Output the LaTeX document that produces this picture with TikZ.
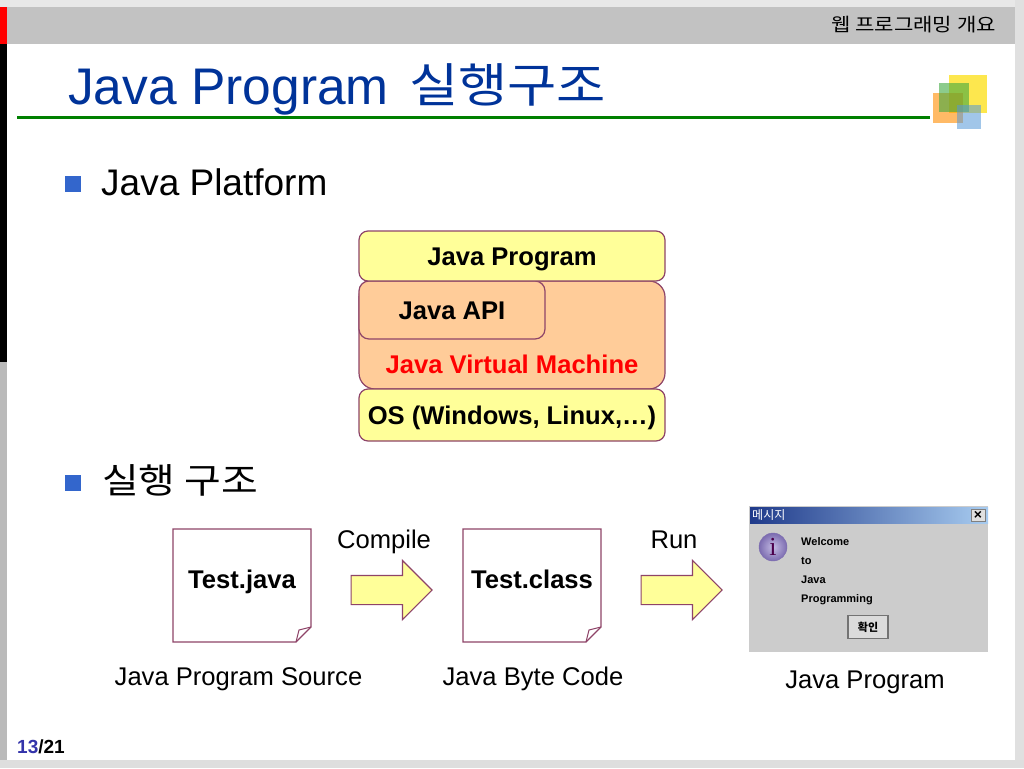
\documentclass[tikz,border=0pt]{standalone}
\usepackage{fontspec}
\setmainfont{Liberation Sans}
\newfontfamily\krfont{Noto Sans CJK KR}
\newfontfamily\krwide[FakeStretch=1.14]{Noto Sans CJK KR}
\newfontfamily\iconfont{Liberation Serif}
\usetikzlibrary{shapes.arrows}
\definecolor{edgeplum}{HTML}{8E4468}
\definecolor{paleyellow}{HTML}{FFFF99}
\definecolor{paleorange}{HTML}{FFCC99}
\definecolor{titleblue}{HTML}{003399}
\definecolor{bulletblue}{HTML}{3366CC}
\definecolor{pagenumblue}{HTML}{3333AA}
\definecolor{barleft}{HTML}{1F3A8A}
\definecolor{barright}{HTML}{A8CCF0}
\definecolor{iconlight}{HTML}{C4BCE4}
\definecolor{iconedge}{HTML}{7C6CB0}
\begin{document}
\begin{tikzpicture}
        [
            x=1pt,y=-1pt,
            stack/.style={rectangle,draw=edgeplum,line width=1.2pt,inner sep=0pt,minimum width=306,text height=19,text depth=0,font=\fontsize{25.6}{25.6}\selectfont\bfseries},
            bullet/.style={rectangle,fill=bulletblue,inner sep=0pt,minimum size=16},
            caption/.style={font=\fontsize{25.6}{25.6}\selectfont,anchor=base,inner sep=0pt},
            blockarrow/.style={single arrow,draw=edgeplum,fill=paleyellow,line width=1.2pt,inner xsep=0pt,inner ysep=14pt,anchor=tail,
                minimum height=81,minimum width=58,single arrow head extend=15,single arrow head indent=0pt},
            msgline/.style={font=\fontsize{11}{11}\selectfont\bfseries,anchor=base west,inner sep=0pt},
            tile/.style={rectangle,inner sep=0pt,anchor=north west},
        ]
    \useasboundingbox (0,0) rectangle (1024,768);

    % frame of the slide
    \fill[white] (0,0) rectangle (1024,768);
    \fill[black!9] (0,0) rectangle (1024,7);
    \fill[black!12] (1015,0) rectangle (1024,768);
    \fill[black!13] (0,760) rectangle (1024,768);
    \fill[black!24] (7,7) rectangle (1015,44);
    \fill[red] (0,7) rectangle (7,44);
    \fill[black] (0,44) rectangle (7,362);
    \fill[black!27] (0,362) rectangle (7,760);

    \node[anchor=base east,inner sep=0pt,font=\fontsize{18.5}{18.5}\krwide] (header) at (996,32) {웹 프로그래밍 개요};
    \node[anchor=base west,inner sep=0pt,text=titleblue,font=\fontsize{51.5}{51.5}\selectfont] (title) at (68,104) {Java Program\hspace{6pt} \raisebox{2pt}{\krwide\fontsize{47}{47}\selectfont 실행구조}};
    \draw[green!50!black,line width=2.5pt] (17,117.5) -- (930,117.5);

    % logo
    \node[tile,fill=yellow!80!orange,fill opacity=0.7,minimum width=38,minimum height=38] (tileyellow) at (949,75) {};
    \node[tile,fill=orange!90!yellow,fill opacity=0.6,minimum width=30,minimum height=30] (tileorange) at (933,93) {};
    \node[tile,fill=green!55!black!75,fill opacity=0.6,minimum width=30,minimum height=29] (tilegreen) at (939,83) {};
    \node[tile,fill=cyan!60!blue!70,fill opacity=0.55,minimum width=24,minimum height=24] (tileblue) at (957,105) {};

    % bullets
    \node[bullet] (bulletone) at (73,184) {};
    \node[anchor=base west,inner sep=0pt,font=\fontsize{37}{37}\selectfont] (platform) at (101,195) {Java Platform};
    \node[bullet] (bullettwo) at (73,483) {};
    \node[anchor=base west,inner sep=0pt,font=\fontsize{35}{35}\krwide] (runtitle) at (102,493) {실행 구조};

    % platform stack
    \node[stack,fill=paleorange,minimum height=108,rounded corners=16pt] (jvm) at (512,335) {};
    \node[anchor=base,inner sep=0pt,text=red,font=\fontsize{25.6}{25.6}\selectfont\bfseries] (jvmlabel) at (512,373) {Java Virtual Machine};
    \node[stack,fill=paleorange,minimum width=186,minimum height=58,rounded corners=10pt] (api) at (452,310) {Java API};
    \node[stack,fill=paleyellow,minimum height=50,rounded corners=9pt] (program) at (512,256) {Java Program};
    \node[stack,fill=paleyellow,minimum height=52,rounded corners=9pt] (os) at (512,415) {OS (Windows, Linux,…)};

    % source pages
    \foreach \x/\name/\txt in {173/srcpage/Test.java,463/classpage/Test.class}{
        \draw[edgeplum,line width=1.2pt,fill=white] (\x,529) -- ++(138,0) -- ++(0,98) -- ++(-15,15) -- (\x,642) -- cycle;
        \draw[edgeplum,line width=1pt] (\x+123,642) -- (\x+126,630) -- (\x+138,627);
        \node[inner sep=0pt,anchor=base,font=\fontsize{25.6}{25.6}\selectfont\bfseries] (\name) at (\x+69,588) {\txt};
    }

    \node[blockarrow] (compilearrow) at (350.5,590) {};
    \node[blockarrow] (runarrow) at (640.5,590) {};
    \node[caption] (compile) at (384,548) {Compile};
    \node[caption] (run) at (674,548) {Run};
    \node[caption] (srccaption) at (238.5,685) {Java Program Source};
    \node[caption] (classcaption) at (533,685) {Java Byte Code};
    \node[caption] (progcaption) at (865,688) {Java Program};

    % message window
    \fill[black!20] (749,506) rectangle (988,652);
    \shade[left color=barleft,right color=barright] (750,507) rectangle (988,523);
    \node[anchor=base west,inner sep=0pt,text=white,font=\fontsize{12}{12}\krfont] (msgtitle) at (752,519) {메시지};
    \node[rectangle,draw=black!50,fill=black!12,inner sep=0pt,minimum width=14,minimum height=12,font=\fontsize{14}{12}\selectfont\bfseries] (msgclose) at (978,515) {×};
    \node[circle,draw=iconedge,inner color=iconlight,outer color=iconedge,inner sep=0pt,minimum size=28,font=\fontsize{26}{26}\iconfont,text=violet!60!black] (msgicon) at (773,547) {i};
    \node[msgline] (msgone) at (801,545) {Welcome};
    \node[msgline] (msgtwo) at (801,564) {to};
    \node[msgline] (msgthree) at (801,583) {Java};
    \node[msgline] (msgfour) at (801,602) {Programming};
    \node[rectangle,draw=black!55,line width=1.2pt,fill=black!14,inner sep=0pt,minimum width=40,minimum height=23,font=\fontsize{11}{11}\krfont\bfseries] (msgok) at (868,627) {확인};

    % page number
    \node[anchor=base west,inner sep=0pt,font=\fontsize{19}{19}\selectfont\bfseries] (pageno) at (17,753) {\textcolor{pagenumblue}{13}/21};
    \end{tikzpicture}
\end{document}
